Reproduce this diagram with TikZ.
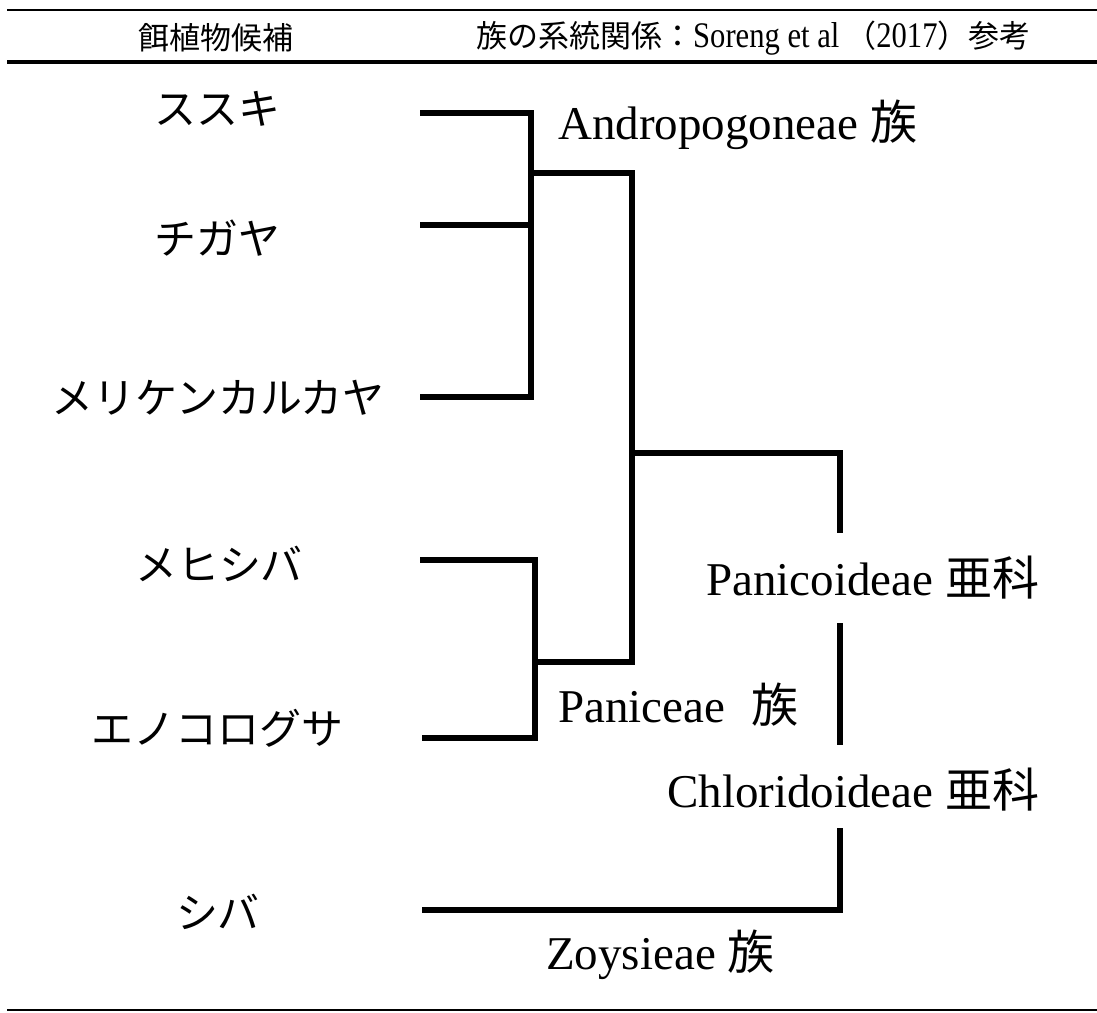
\documentclass[tikz,border=0pt]{standalone}
\usepackage{fontspec}
\usepackage{graphicx}
\setmainfont{Liberation Serif}
\newfontfamily\jp{Noto Sans CJK JP}
\newcommand{\hdlatin}[1]{\scalebox{0.85}[1]{\rmfamily\fontsize{36}{38}\selectfont #1}}
\begin{document}
\begin{tikzpicture}[x=1pt,y=-1pt,
  branch/.style={line width=6.5pt,line cap=butt,line join=miter},
  rulethin/.style={line width=2pt},
  rulethick/.style={line width=3.5pt},
  leaf/.style={inner sep=0pt,font=\jp\fontsize{42}{44}\selectfont},
  taxon/.style={inner sep=0pt,anchor=west,font=\fontsize{47}{50}\selectfont},
  head/.style={inner sep=0pt,font=\fontsize{31}{34}\selectfont}]
\useasboundingbox (0,0) rectangle (1097,1012);
% rules
\coordinate (rtl) at (7,10);   \coordinate (rtr) at (1097,10);
\coordinate (rml) at (7,62);   \coordinate (rmr) at (1097,62);
\coordinate (rbl) at (7,1010); \coordinate (rbr) at (1097,1010);
\draw[rulethin] (rtl) -- (rtr);
\draw[rulethick] (rml) -- (rmr);
\draw[rulethin] (rbl) -- (rbr);
% header
\node[head] (h1) at (216,38) {\jp 餌植物候補};
\node[head,anchor=west] (h2) at (476,38) {\jp 族の系統関係：\hdlatin{Soreng et al}\hspace{6pt}（\hdlatin{2017}）参考};
% leaf labels
\node[leaf] (susuki) at (217,109) {ススキ};
\node[leaf] (chigaya) at (217,238) {チガヤ};
\node[leaf] (meriken) at (218,398) {メリケンカルカヤ};
\node[leaf] (mehishiba) at (219,564) {メヒシバ};
\node[leaf] (enokoro) at (217,728) {エノコログサ};
\node[leaf] (shiba) at (218,912) {シバ};
% tree coordinates
\coordinate (e1) at (420,113);
\coordinate (e2) at (420,225);
\coordinate (e3) at (420,397);
\coordinate (e4) at (420,560);
\coordinate (e5) at (422,738);
\coordinate (e6) at (422,910);
\coordinate (a1) at (531,113);
\coordinate (a2) at (531,225);
\coordinate (a3) at (531,397);
\coordinate (am) at (531,173);
\coordinate (p1) at (535,560);
\coordinate (p2) at (535,738);
\coordinate (pm) at (535,662);
\coordinate (ja) at (632,173);
\coordinate (jp) at (632,662);
\coordinate (jm) at (632,453);
\coordinate (r1) at (840,453);
\coordinate (r2) at (840,533);
\coordinate (r3) at (840,623);
\coordinate (r4) at (840,745);
\coordinate (r5) at (840,828);
\coordinate (r6) at (840,910);
% branches
\draw[branch] (e1) -- (a1) -- (a3) -- (e3);
\draw[branch] (e2) -- (a2);
\draw[branch] (am) -- (ja) -- (jp) -- (pm);
\draw[branch] (e4) -- (p1) -- (p2) -- (e5);
\draw[branch] (jm) -- (r1) -- (r2);
\draw[branch] (r3) -- (r4);
\draw[branch] (r5) -- (r6) -- (e6);
% taxon labels
\node[taxon] (andro) at (558,125) {Andropogoneae {\jp 族}};
\node[taxon] (panic) at (558,705) {Paniceae\hspace{0.55em}{\jp 族}};
\node[taxon] (panicoid) at (706,578) {Panicoideae {\jp 亜科}};
\node[taxon] (chlor) at (667,790) {Chloridoideae {\jp 亜科}};
\node[taxon] (zoys) at (546,955) {Zoysieae {\jp 族}};
\end{tikzpicture}
\end{document}
